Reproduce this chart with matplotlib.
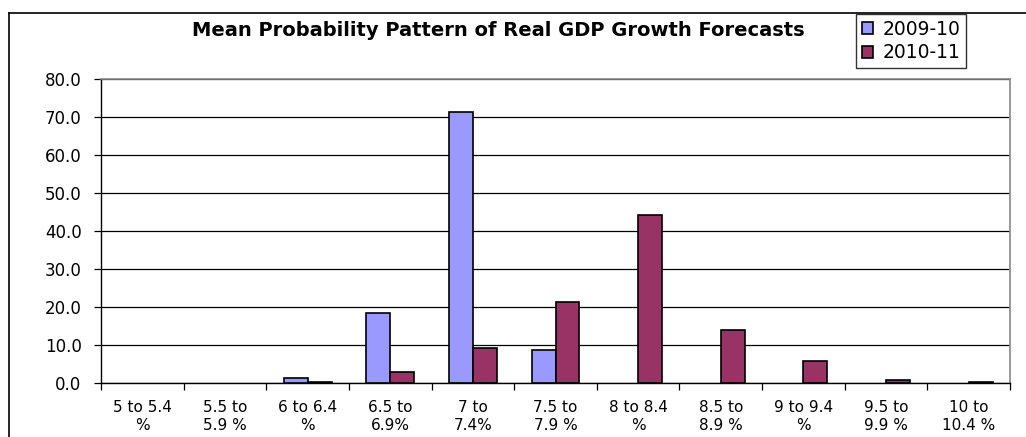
import matplotlib.pyplot as plt
import numpy as np
from matplotlib.lines import Line2D

categories = ['5 to 5.4\n%', '5.5 to\n5.9 %', '6 to 6.4\n%', '6.5 to\n6.9%', '7 to\n7.4%',
              '7.5 to\n7.9 %', '8 to 8.4\n%', '8.5 to\n8.9 %', '9 to 9.4\n%', '9.5 to\n9.9 %',
              '10 to\n10.4 %']
fy2009 = [0.0, 0.0, 1.3, 18.5, 71.2, 8.8, 0.0, 0.0, 0.0, 0.0, 0.0]
fy2010 = [0.0, 0.0, 0.3, 3.0, 9.2, 21.2, 44.2, 14.0, 5.7, 0.9, 0.3]
yticks = [0, 10, 20, 30, 40, 50, 60, 70, 80]

plt.rcParams['font.family'] = ['DejaVu Sans']

fig = plt.figure(figsize=(10.26, 4.37), dpi=100)
ax = fig.add_axes([101/1026, 1 - 383/437, 909/1026, 304/437])

x = np.arange(len(categories))
w = 0.29
# zero-valued bars are not outlined in the original
edges_a = ['black' if v > 0 else 'none' for v in fy2009]
edges_b = ['black' if v > 0 else 'none' for v in fy2010]
ax.bar(x - w/2, fy2009, w, color='#9999FF', edgecolor=edges_a, linewidth=1.2, label='2009-10', zorder=3)
ax.bar(x + w/2, fy2010, w, color='#993366', edgecolor=edges_b, linewidth=1.2, label='2010-11', zorder=3)

ax.set_xlim(-0.5, len(categories) - 0.5)
ax.set_ylim(0, 80)
ax.set_yticks(yticks)
ax.set_yticklabels([f'{v:.1f}' for v in yticks], fontsize=12)
ax.yaxis.grid(True, color='black', linewidth=0.9, zorder=0)
ax.set_xticks(x)
ax.set_xticklabels(categories, fontsize=11, linespacing=1.3)
ax.set_xticks(np.arange(len(categories) + 1) - 0.5, minor=True)
ax.tick_params(axis='x', which='major', length=0, pad=12)
ax.tick_params(axis='x', which='minor', length=5, direction='out', width=0.9)
ax.tick_params(axis='y', length=5, direction='out', width=0.9, pad=9)

for s in ['top', 'right']:
    ax.spines[s].set_color('#888888')
    ax.spines[s].set_linewidth(1.2)
for s in ['left', 'bottom']:
    ax.spines[s].set_color('black')
    ax.spines[s].set_linewidth(1.0)

fig.text(498/1026, 1 - 30/437, 'Mean Probability Pattern of Real GDP Growth Forecasts',
         ha='center', va='center', fontsize=14, fontweight='bold')

handles, labels = ax.get_legend_handles_labels()
leg = fig.legend(handles, labels, loc='upper left', bbox_to_anchor=(856/1026, 1 - 14/437),
                 fontsize=13.5, frameon=True, fancybox=False, edgecolor='black',
                 borderpad=0.3, handlelength=0.6, handleheight=0.6, handletextpad=0.5,
                 labelspacing=0.25, borderaxespad=0)
leg.get_frame().set_linewidth(1.0)
for h in leg.legend_handles:
    h.set_edgecolor('black')

# outer chart frame
fig.add_artist(Line2D([9/1026, 9/1026], [0, 1 - 13/437], color='black', linewidth=1.2))
fig.add_artist(Line2D([9/1026, 1], [1 - 13/437, 1 - 13/437], color='black', linewidth=1.2))

fig.savefig('out.png', dpi=100)
